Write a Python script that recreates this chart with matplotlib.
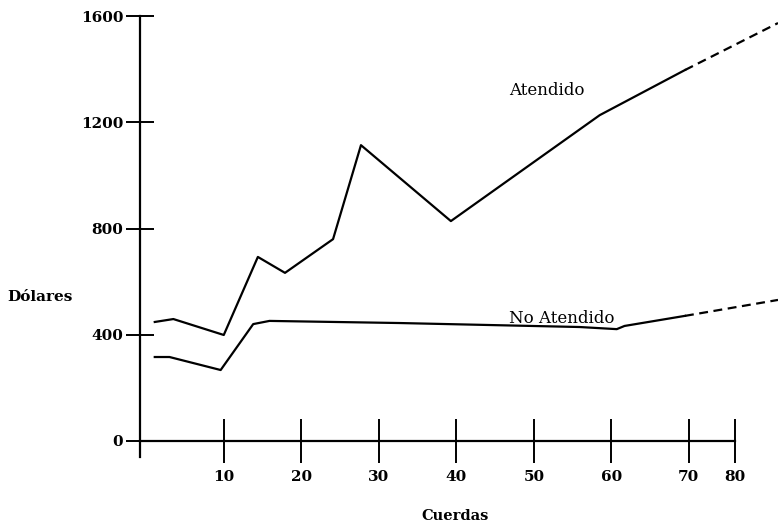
import matplotlib
matplotlib.use('Agg')
import matplotlib.pyplot as plt

# datos (cuerdas, dolares)
cuerdas_atendido = [1.1, 3.5, 10, 14.4, 17.9, 24.1, 27.7, 39.3, 58.5, 69.5]
dolares_atendido = [448, 459, 399, 693, 633, 760, 1114, 828, 1227, 1397]
cuerdas_atendido_proy = [69.5, 81.5]
dolares_atendido_proy = [1397, 1574]

cuerdas_no_atendido = [1.1, 3.0, 9.6, 13.8, 15.9, 32.7, 55.9, 60.7, 61.7, 69.5]
dolares_no_atendido = [316, 316, 267, 440, 452, 444, 429, 421, 433, 471]
cuerdas_no_atendido_proy = [69.5, 81.5]
dolares_no_atendido_proy = [471, 531]

x_ticks = [10, 20, 30, 40, 50, 60, 70, 76]   # el 80 esta dibujado mas cerca en el original
x_labels = ['10', '20', '30', '40', '50', '60', '70', '80']
y_ticks = [0, 400, 800, 1200, 1600]

serif = 'DejaVu Serif'

fig = plt.figure(figsize=(7.78, 5.28), dpi=100)
ax = fig.add_axes([0.18, 0.129, 0.82, 0.852])

ax.plot(cuerdas_atendido, dolares_atendido, color='k', lw=1.6)
ax.plot(cuerdas_atendido_proy, dolares_atendido_proy, color='k', lw=1.6, ls=(0, (4, 2.5)))
ax.plot(cuerdas_no_atendido, dolares_no_atendido, color='k', lw=1.6)
ax.plot(cuerdas_no_atendido_proy, dolares_no_atendido_proy, color='k', lw=1.6, ls=(0, (4, 2.5)))

ax.set_xlim(-0.8, 81.5)
ax.set_ylim(-71.5, 1623)

ax.spines['top'].set_visible(False)
ax.spines['right'].set_visible(False)
ax.spines['bottom'].set_position(('data', 0))
ax.spines['bottom'].set_bounds(-0.8, 76)
ax.spines['left'].set_bounds(-60, 1600)
ax.spines['bottom'].set_linewidth(1.6)
ax.spines['left'].set_linewidth(1.6)

ax.set_xticks(x_ticks)
ax.set_xticklabels(x_labels)
ax.set_yticks(y_ticks)
ax.tick_params(axis='x', direction='inout', length=32, width=1.4, pad=5)
ax.tick_params(axis='y', direction='inout', length=20, width=1.4, pad=2)
for lab in ax.get_xticklabels() + ax.get_yticklabels():
    lab.set_fontfamily(serif)
    lab.set_fontweight('bold')
    lab.set_fontsize(11)

ax.text(51.7, 1321, 'Atendido', family=serif, fontsize=12, ha='center', va='center')
ax.text(53.6, 462, 'No Atendido', family=serif, fontsize=12, ha='center', va='center')

fig.text(0.051, 0.4375, 'Dólares', family=serif, fontsize=11, fontweight='bold', ha='center', va='center')
fig.text(0.585, 0.022, 'Cuerdas', family=serif, fontsize=10.5, fontweight='bold', ha='center', va='center')

fig.savefig('out.png', dpi=100)
